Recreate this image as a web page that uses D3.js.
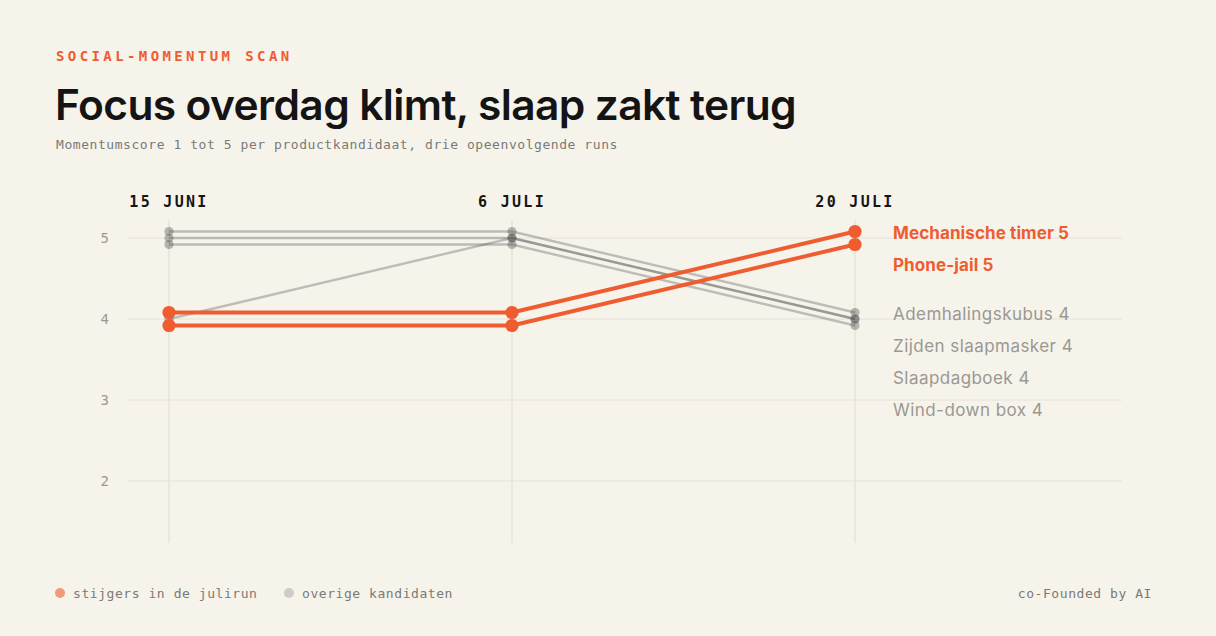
<!DOCTYPE html>
<html>
<head>
<meta charset="utf-8">
<script src="https://cdn.jsdelivr.net/npm/d3@7"></script>
<style>
  html, body { margin: 0; padding: 0; background: #F6F3EB; }
  svg { display: block; }
</style>
</head>
<body>
<svg id="chart" width="1216" height="636"></svg>
<script>
// ---- data ----
const runDates = ["15 JUNI", "6 JULI", "20 JULI"];
const seriesNames = ["Mechanische timer", "Phone-jail", "Ademhalingskubus", "Zijden slaapmasker", "Slaapdagboek", "Wind-down box"];
const mechanischeTimer = [4, 4, 5];
const phoneJail = [4, 4, 5];
const ademhalingskubus = [5, 5, 4];
const zijdenSlaapmasker = [5, 5, 4];
const slaapdagboek = [4, 5, 4];
const windDownBox = [5, 5, 4];
const isRiser = [true, true, false, false, false, false];
const yTicks = [2, 3, 4, 5];
const legendLabels = ["stijgers in de julirun", "overige kandidaten"];

// ---- style ----
const W = 1216, H = 636;
const BG = "#F6F3EB";
const ORANGE = "#EE5C30";
const MONO = "'DejaVu Sans Mono', 'Liberation Mono', monospace";
const SANS = "Inter, 'Noto Sans', sans-serif";
const laneOffset = [-6.5, 6.5, -6.5, 0, 0, 6.5]; // visual dodge for overlapping lines

const allValues = [mechanischeTimer, phoneJail, ademhalingskubus, zijdenSlaapmasker, slaapdagboek, windDownBox];
const series = seriesNames.map((name, i) => ({
  name, values: allValues[i], riser: isRiser[i], off: laneOffset[i]
}));

const svg = d3.select("#chart");
svg.append("rect").attr("width", W).attr("height", H).attr("fill", BG);

const x = d3.scalePoint().domain(runDates).range([169, 855]);
const y = d3.scaleLinear().domain([2, 5]).range([481, 238]);
const plotTop = 220, plotBottom = 543, gridLeft = 128, gridRight = 1122;

// header
svg.append("text").attr("x", 56).attr("y", 61)
  .attr("font-family", MONO).attr("font-size", 14).attr("font-weight", 700)
  .attr("letter-spacing", 3.4).attr("fill", ORANGE)
  .text("SOCIAL-MOMENTUM SCAN");
svg.append("text").attr("x", 55).attr("y", 120)
  .attr("font-family", SANS).attr("font-size", 42.5).attr("font-weight", 600)
  .attr("letter-spacing", -0.62).attr("fill", "#141414")
  .text("Focus overdag klimt, slaap zakt terug");
svg.append("text").attr("x", 56).attr("y", 149)
  .attr("font-family", MONO).attr("font-size", 13).attr("letter-spacing", 0.56)
  .attr("fill", "#7a7a76")
  .text("Momentumscore 1 tot 5 per productkandidaat, drie opeenvolgende runs");

// horizontal grid + y ticks
const gy = svg.append("g");
gy.selectAll("line").data(yTicks).join("line")
  .attr("x1", gridLeft).attr("x2", gridRight)
  .attr("y1", d => y(d)).attr("y2", d => y(d))
  .attr("stroke", "#E6E2D8").attr("stroke-width", 1);
gy.selectAll("text").data(yTicks).join("text")
  .attr("x", 109).attr("y", d => y(d)).attr("dy", "0.35em")
  .attr("text-anchor", "end")
  .attr("font-family", MONO).attr("font-size", 14).attr("fill", "#9a9892")
  .text(d => d);

// vertical grid + date labels
const gx = svg.append("g");
gx.selectAll("line").data(runDates).join("line")
  .attr("x1", d => x(d)).attr("x2", d => x(d))
  .attr("y1", plotTop).attr("y2", plotBottom)
  .attr("stroke", "#E3DFD5").attr("stroke-width", 1.2);
gx.selectAll("text").data(runDates).join("text")
  .attr("x", d => x(d)).attr("y", 207)
  .attr("text-anchor", "middle")
  .attr("font-family", MONO).attr("font-size", 15).attr("font-weight", 700)
  .attr("letter-spacing", 2.3).attr("fill", "#151515")
  .text(d => d);

// lines
const line = d3.line()
  .x((v, i) => x(runDates[i]))
  .y(v => v.y);

const ordered = series.filter(s => !s.riser).concat(series.filter(s => s.riser));
ordered.forEach(s => {
  const pts = s.values.map(v => ({ y: y(v) + s.off }));
  const g = svg.append("g");
  g.append("path").datum(pts)
    .attr("d", line)
    .attr("fill", "none")
    .attr("stroke", s.riser ? ORANGE : "#555")
    .attr("stroke-opacity", s.riser ? 1 : 0.35)
    .attr("stroke-width", s.riser ? 3.9 : 2.4)
    .attr("stroke-linejoin", "round");
  g.selectAll("circle").data(pts).join("circle")
    .attr("cx", (d, i) => x(runDates[i]))
    .attr("cy", d => d.y)
    .attr("r", s.riser ? 6.6 : 4.6)
    .attr("fill", s.riser ? ORANGE : "#555")
    .attr("fill-opacity", s.riser ? 1 : 0.4);
});

// end labels with simple collision avoidance
const last = runDates.length - 1;
const labels = series.map(s => ({ s, y: y(s.values[last]) + s.off + 1.5 }));
labels.sort((a, b) => a.y - b.y);
for (let i = 1; i < labels.length; i++) {
  labels[i].y = Math.max(labels[i].y, labels[i - 1].y + 32);
}
svg.append("g").selectAll("text").data(labels).join("text")
  .attr("x", 893).attr("y", d => d.y).attr("dy", "0.36em")
  .attr("font-family", SANS).attr("font-size", 17)
  .attr("font-weight", d => d.s.riser ? 700 : 400)
  .attr("letter-spacing", d => d.s.riser ? 0.1 : 0.45)
  .attr("fill", d => d.s.riser ? ORANGE : "#9a9892")
  .text(d => d.s.name + " " + d.s.values[last]);

// legend
const leg = svg.append("g");
const legX = [60, 289];
legendLabels.forEach((t, i) => {
  leg.append("circle").attr("cx", legX[i]).attr("cy", 593).attr("r", 5)
    .attr("fill", i === 0 ? "#EF9A78" : "#CFCCC5");
  leg.append("text").attr("x", legX[i] + 13).attr("y", 593).attr("dy", "0.35em")
    .attr("font-family", MONO).attr("font-size", 13).attr("letter-spacing", 0.56)
    .attr("fill", "#7a7a76").text(t);
});
svg.append("text").attr("x", 1152).attr("y", 593).attr("dy", "0.35em")
  .attr("text-anchor", "end")
  .attr("font-family", MONO).attr("font-size", 13).attr("letter-spacing", 0.56)
  .attr("fill", "#7a7a76").text("co-Founded by AI");
</script>
</body>
</html>
